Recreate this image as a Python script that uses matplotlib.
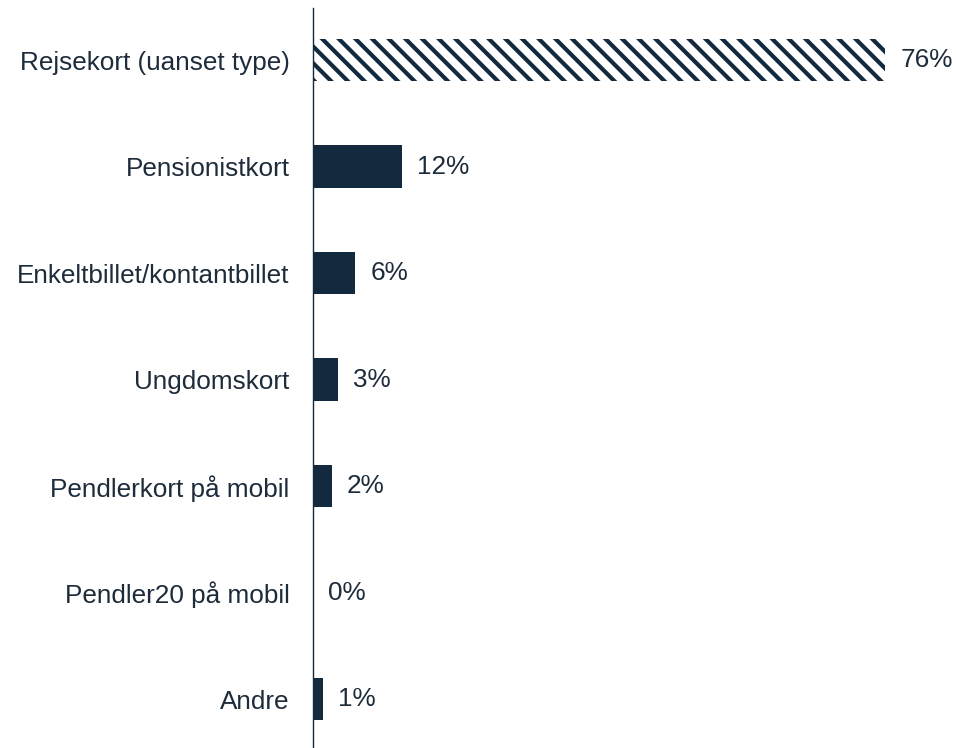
import matplotlib.pyplot as plt

# Categories and shares (percent)
categories = [
    "Rejsekort (uanset type)",
    "Pensionistkort",
    "Enkeltbillet/kontantbillet",
    "Ungdomskort",
    "Pendlerkort på mobil",
    "Pendler20 på mobil",
    "Andre",
]
shares = [76.0, 11.8, 5.6, 3.3, 2.5, 0.0, 1.3]
labels = ["76%", "12%", "6%", "3%", "2%", "0%", "1%"]
hatched = [True, False, False, False, False, False, False]

navy = "#132a3e"
text_col = "#1d2b3a"

plt.rcParams["font.family"] = ["Liberation Sans", "DejaVu Sans"]
plt.rcParams["hatch.linewidth"] = 3.0

fig = plt.figure(figsize=(9.56, 7.48), dpi=100)
ax = fig.add_axes([313 / 956, 1 - 747 / 748, 643 / 956, 739 / 748])

ypos = list(range(len(categories)))
for y, val, h in zip(ypos, shares, hatched):
    if h:
        ax.barh(y, val, height=0.4, color="white", edgecolor=navy,
                hatch="\\\\", linewidth=0)
    else:
        ax.barh(y, val, height=0.4, color=navy, linewidth=0)

for y, val, lab in zip(ypos, shares, labels):
    ax.annotate(lab, xy=(val, y), xytext=(11, 0), textcoords="offset points",
                ha="left", va="center", fontsize=18.8, color=text_col)

ax.set_yticks(ypos)
ax.set_yticklabels(categories, fontsize=18.8, color=text_col)
ax.tick_params(axis="y", length=0, pad=17)
ax.set_xticks([])
ax.set_xlim(0, 85.4)
ax.set_ylim(6.45, -0.49)

for side in ["top", "right", "bottom"]:
    ax.spines[side].set_visible(False)
ax.spines["left"].set_color(navy)
ax.spines["left"].set_linewidth(1.0)

fig.savefig("out.png", dpi=100)
